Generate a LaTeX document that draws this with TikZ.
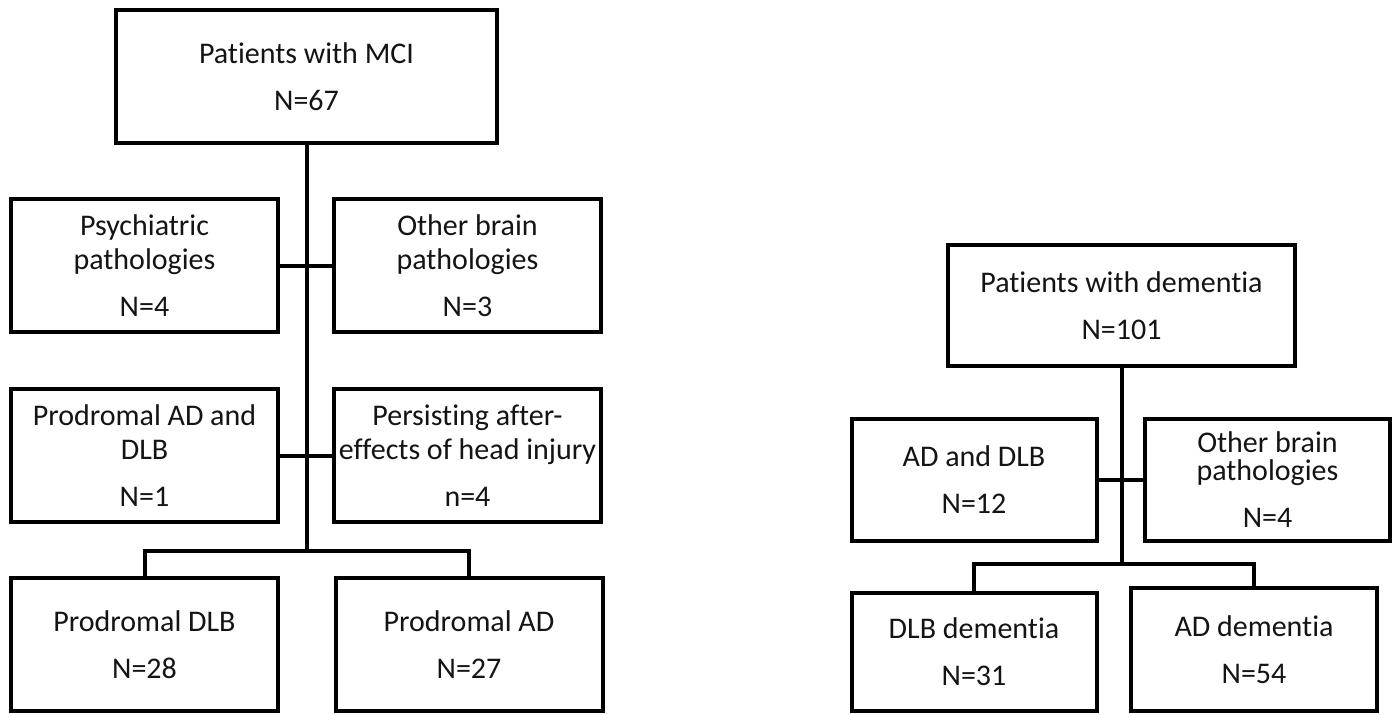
\documentclass[tikz,border=0pt]{standalone}
\usepackage{fontspec}
\setmainfont{Carlito}[Ligatures={NoCommon,NoContextual}]
\definecolor{box_line}{RGB}{0,0,0}
\definecolor{box_text}{RGB}{20,20,20}

\begin{document}
\begin{tikzpicture}[x=1pt,y=-1pt,line width=4pt]
    \tikzstyle{box}=[draw=box_line, rectangle, inner sep=0pt, align=center, text=box_text, font=\fontsize{30}{34}\selectfont]
    \tikzstyle{lbox}=[style=box, minimum width=267pt, minimum height=133pt]
    \tikzstyle{rbox}=[style=box, minimum width=245pt, minimum height=122pt]

    \useasboundingbox[fill=white] (0,0) rectangle (1393,713);

    % MCI tree
    \node[box, minimum width=381pt, minimum height=133pt] (mci) at (306.5,76.5) {Patients with MCI\\[13pt]N=67};
    \node[lbox] (psych) at (144.5,265.5) {Psychiatric\\pathologies\\[13pt]N=4};
    \node[lbox] (obrain) at (467.5,265.5) {Other brain\\pathologies\\[13pt]N=3};
    \node[lbox] (pboth) at (144.5,455.5) {Prodromal AD and\\DLB\\[13pt]N=1};
    \node[lbox] (injury) at (467.5,455.5) {Persisting after-\\effects of head injury\\[13pt]n=4};
    \node[lbox] (pdlb) at (144.5,644.5) {Prodromal DLB\\[13pt]N=28};
    \node[lbox] (pad) at (469,644.5) {Prodromal AD\\[13pt]N=27};
    \coordinate (mcifork) at (306.5,551);

    \draw (mci) -- (mcifork);
    \draw (psych) -- (obrain);
    \draw (pboth) -- (injury);
    \draw (pdlb) |- (mcifork) -| (pad);

    % dementia tree
    \node[box, minimum width=347pt, minimum height=121pt] (dem) at (1121.5,305.5) {Patients with dementia\\[13pt]N=101};
    \node[rbox] (adboth) at (974,480) {AD and DLB\\[13pt]N=12};
    \node[rbox] (obrain2) at (1267.5,480) {Other brain\\[-6pt]pathologies\\[13pt]N=4};
    \node[rbox, minimum height=118pt] (dlbdem) at (974,652) {DLB dementia\\[13pt]N=31};
    \node[rbox, minimum width=246pt, minimum height=123pt] (addem) at (1254,649.5) {AD dementia\\[13pt]N=54};
    \coordinate (demfork) at (1121.5,564);

    \draw (dem) -- (demfork);
    \draw (adboth) -- (obrain2);
    \draw (dlbdem) |- (demfork) -| (addem);
\end{tikzpicture}
\end{document}
